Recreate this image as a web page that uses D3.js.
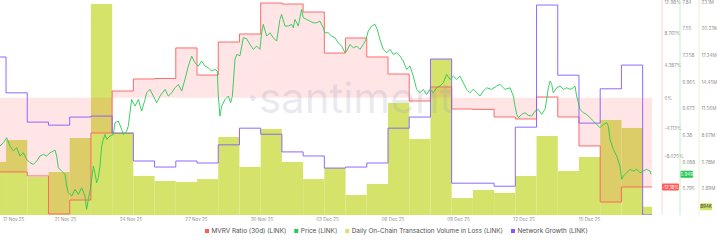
<!DOCTYPE html>
<html>
<head>
<meta charset="utf-8">
<script src="https://cdn.jsdelivr.net/npm/d3@7"></script>
<style>
  body { margin: 0; background: #fff; }
  svg { font-family: Inter, "Noto Sans", sans-serif; }
</style>
</head>
<body>
<svg id="chart" width="717" height="242"></svg>
<script>
// one value per day, 18 Nov 2025 .. 19 Dec 2025
const days = ["2025-11-18","2025-11-19","2025-11-20","2025-11-21","2025-11-22","2025-11-23","2025-11-24","2025-11-25",
  "2025-11-26","2025-11-27","2025-11-28","2025-11-29","2025-11-30","2025-12-01","2025-12-02","2025-12-03",
  "2025-12-04","2025-12-05","2025-12-06","2025-12-07","2025-12-08","2025-12-09","2025-12-10","2025-12-11",
  "2025-12-12","2025-12-13","2025-12-14","2025-12-15","2025-12-16","2025-12-17","2025-12-18","2025-12-19"];
// MVRV ratio (30d), %
const mvrv = [-10.14, -10.14, -10.68, -15.86, -13.96, -4.82, 0.90, 2.54, 2.61, 6.77, 3.08, 7.58, 8.67, 12.90, 12.76, 11.67,
  6.08, 8.13, 5.54, 3.22, -0.46, 1.45, -1.55, -1.60, -2.64, -2.91, 0.09, -2.64, -6.59, -14.23, -12.18, -12.18];
// daily on-chain transaction volume in loss, millions LINK
const volume = [5.75, 8.13, 4.12, 4.66, 8.35, 22.88, 9.00, 4.23, 3.69, 3.58, 3.90, 8.46, 5.21, 9.33, 5.75, 3.90,
  5.10, 2.17, 3.36, 12.15, 8.24, 16.92, 1.84, 2.71, 2.39, 4.23, 8.57, 4.77, 6.29, 10.30, 9.44, 0.894];
// network growth, new addresses
const growth = [313, 242, 184, 178, 194, 196, 162, 107, 95, 107, 103, 139, 172, 160, 125, 117,
  93, 95, 103, 172, 194, 309, 63, 63, 57, 174, 416, 277, 182, 250, 297, 0];

// price (LINK), [hours after 18 Nov 05:10 UTC, USD]
const priceStart = "2025-11-18T05:10:00Z";
const price = [[0,6.259],[3.8,6.296],[7.5,6.351],[11.3,6.259],[15.1,6.205],[18.9,6.241],[22.6,6.150],[26.4,6.186],
  [30.2,6.113],[33.9,6.077],[37.7,6.058],[41.5,6.095],[45.2,6.150],[49,6.168],[52.8,6.150],[56.6,6.186],[60.3,6.205],
  [62.2,6.216],[64.1,6.150],[66,6.022],[69.7,5.985],[73.5,5.949],[75.4,5.821],[77.3,5.748],[81.1,5.711],[84.8,5.784],
  [88.6,5.729],[92.4,5.802],[96.1,5.711],[98,5.565],[99.9,5.674],[101.8,5.766],[103.7,5.894],[105.6,6.040],[107.4,5.967],
  [109.3,5.857],[111.2,5.912],[113.1,6.040],[115,6.259],[116.9,6.333],[118.8,6.387],[120.6,6.333],[124.4,6.369],
  [128.2,6.387],[130.1,6.515],[133.8,6.534],[137.6,6.442],[139.5,6.387],[143.3,6.424],[145.1,6.479],[147,6.625],
  [148.9,6.771],[152.7,6.698],[156.5,6.771],[160.2,6.643],[164,6.771],[165.9,6.844],[169.7,6.881],[173.4,6.808],
  [177.2,6.735],[181,6.808],[186.6,6.881],[190.4,6.808],[194.2,6.844],[197.9,6.899],[201.7,6.936],[205.5,6.863],
  [209.2,6.991],[213,7.137],[216.8,7.246],[220.5,7.173],[224.3,7.137],[228.1,7.192],[231.9,7.137],[235.6,7.119],
  [239.4,7.082],[243.2,7.100],[245.8,7.082],[246.9,6.808],[248.8,6.588],[250.7,6.698],[254.5,6.771],[258.2,6.808],
  [260.9,6.735],[262.8,6.808],[263.9,6.954],[265.8,7.210],[267.7,7.265],[271.4,7.25],[275.2,7.448],[279,7.437],
  [282.7,7.374],[286.5,7.320],[290.3,7.356],[294,7.320],[295.9,7.502],[297.8,7.594],[301.6,7.466],[305.3,7.502],
  [309.1,7.448],[312.9,7.411],[316.6,7.649],[318.5,7.703],[322.3,7.576],[326.1,7.576],[329.8,7.594],[331.7,7.557],
  [333.6,7.649],[337.4,7.576],[341.1,7.758],[343,7.667],[346.8,7.649],[350.6,7.630],[354.3,7.612],[358.1,7.612],
  [361.9,7.630],[365.7,7.557],[367.5,7.502],[371.3,7.502],[375.1,7.466],[378.8,7.448],[382.6,7.393],[386.4,7.356],
  [390.2,7.283],[392,7.301],[395.8,7.374],[399.6,7.338],[403.4,7.356],[407.1,7.320],[410.9,7.374],[413.9,7.429],
  [416.5,7.521],[420.3,7.576],[424.1,7.594],[426.7,7.539],[429.7,7.429],[433.5,7.320],[437.3,7.283],[441.1,7.320],
  [444.8,7.265],[448.6,7.283],[452.4,7.246],[456.1,7.192],[459.9,7.100],[463.7,7.137],[467.4,7.027],[471.2,6.881],
  [475,6.844],[478.8,6.881],[482.5,6.826],[486.3,6.881],[490.1,6.844],[493.8,6.899],[497.6,6.918],[501.4,6.954],
  [505.1,7.045],[508.9,6.991],[512.7,7.027],[516.5,6.991],[520.2,7.027],[524,6.954],[527.8,6.881],[531.5,6.844],
  [535.3,6.881],[539.1,6.844],[542.9,6.808],[546.7,6.863],[550.4,6.899],[556.1,6.881],[561.8,6.918],[565.5,6.936],
  [571.2,6.881],[576.8,6.899],[580.6,6.808],[582.5,6.698],[584.4,6.607],[586.3,6.570],[590,6.607],[593.8,6.625],
  [597.6,6.596],[601.3,6.588],[605.1,6.643],[608.9,6.662],[612.6,6.607],[616.4,6.662],[618.3,6.771],[620.2,6.899],
  [622.1,6.972],[624,6.936],[625.8,6.844],[629.6,6.899],[633.4,6.918],[637.2,6.881],[640.9,6.899],[644.7,6.881],
  [648.5,6.899],[650.3,6.918],[652.2,6.808],[654.1,6.735],[656,6.662],[659.8,6.625],[663.5,6.607],[667.3,6.570],
  [671.1,6.534],[674.8,6.497],[678.6,6.460],[682.4,6.497],[686.2,6.515],[688,6.479],[689.9,6.333],[693.7,6.223],
  [697.5,6.150],[701.2,6.040],[703.1,5.894],[705,5.930],[708.8,5.967],[712.5,6.004],[716.3,5.985],[720.1,6.004],
  [723.9,5.967],[727.6,5.985],[731.4,6.004],[735.2,5.985],[736.3,5.949]];

const xLabels = ["17 Nov 25","21 Nov 25","24 Nov 25","27 Nov 25","30 Nov 25","03 Dec 25","06 Dec 25","09 Dec 25","12 Dec 25","15 Dec 25"];
const mvrvTicks = [-8.025, -4.113, 0, 4.387, 8.761, 12.98];
const priceTicks = [5.795, 6.088, 6.38, 6.673, 6.965, 7.258, 7.55, 7.84];
const volumeTicks = [2.89, 5.78, 8.67, 11.56, 14.45, 17.34, 20.23, 23.1];

const colors = { mvrv: "#ff5b5b", price: "#26c953", volume: "#d6e36a", growth: "#8358ff" };

const svg = d3.select("#chart");
const W = 652, plotTop = 3, plotBottom = 215;
const halfDay = 12 * 3600 * 1000;
const rows = days.map((d, i) => ({ t: new Date(d + "T00:00:00Z"), mvrv: mvrv[i], vol: volume[i], growth: growth[i] }));

const x = d3.scaleUtc().domain([new Date("2025-11-18T05:10:00Z"), new Date("2025-12-18T22:35:00Z")]).range([0, W]);
const yMvrv = d3.scaleLinear().domain([-16.0, 12.9]).range([plotBottom, plotTop]);
const yPrice = d3.scaleLinear().domain([5.503, 7.84]).range([plotBottom, 2]);
const yVol = d3.scaleLinear().domain([0, 23.1]).range([plotBottom, 2]);
const yGrowth = d3.scaleLinear().domain([0, 420]).range([plotBottom, plotTop]);

svg.append("clipPath").attr("id", "plot").append("rect").attr("x", 0).attr("y", 0).attr("width", W).attr("height", plotBottom);
const g = svg.append("g").attr("clip-path", "url(#plot)");

// volume bars
g.append("g").selectAll("rect").data(rows).enter().append("rect")
  .attr("x", d => x(new Date(+d.t - halfDay)))
  .attr("width", d => x(new Date(+d.t + halfDay)) - x(new Date(+d.t - halfDay)))
  .attr("y", d => yVol(d.vol))
  .attr("height", d => plotBottom - yVol(d.vol))
  .attr("fill", colors.volume);

// step points for daily series
function steps(key) {
  const pts = [];
  rows.forEach(d => {
    pts.push({ t: new Date(+d.t - halfDay), v: d[key] });
    pts.push({ t: new Date(+d.t + halfDay), v: d[key] });
  });
  return pts;
}

const mvrvPts = steps("mvrv");
g.append("path").datum(mvrvPts)
  .attr("d", d3.area().x(d => x(d.t)).y0(yMvrv(0)).y1(d => yMvrv(d.v)))
  .attr("fill", colors.mvrv).attr("fill-opacity", 0.16);
g.append("path").datum(mvrvPts)
  .attr("d", d3.line().x(d => x(d.t)).y(d => yMvrv(d.v)))
  .attr("fill", "none").attr("stroke", colors.mvrv).attr("stroke-width", 0.9);

g.append("path").datum(steps("growth"))
  .attr("d", d3.line().x(d => x(d.t)).y(d => yGrowth(d.v)))
  .attr("fill", "none").attr("stroke", colors.growth).attr("stroke-width", 0.9);

const t0 = +new Date(priceStart);
g.append("path").datum(price)
  .attr("d", d3.line().x(d => x(new Date(t0 + d[0] * 3600 * 1000))).y(d => yPrice(d[1])))
  .attr("fill", "none").attr("stroke", colors.price).attr("stroke-width", 0.9);

// watermark
svg.append("text").attr("x", 350).attr("y", 113).attr("text-anchor", "middle")
  .attr("font-size", 42).attr("fill", "#9aa0bb").attr("fill-opacity", 0.22).text("·santiment");

// x labels, evenly spread like the source
const xl = d3.scaleLinear().domain([0, xLabels.length]).range([0, 655]);
svg.append("g").selectAll("text").data(xLabels).enter().append("text")
  .attr("x", (d, i) => i === 0 ? 3 : xl(i))
  .attr("y", 221)
  .attr("text-anchor", (d, i) => i === 0 ? "start" : "middle")
  .attr("font-size", 4.6).attr("fill", "#8f8f8f").text(d => d);

// right axes
function rightAxis(xPos, scale, ticks, fmt, color) {
  svg.append("line").attr("x1", xPos).attr("x2", xPos).attr("y1", 0).attr("y2", plotBottom)
    .attr("stroke", color).attr("stroke-width", 0.8);
  const a = svg.append("g").attr("transform", `translate(${xPos},0)`)
    .call(d3.axisRight(scale).tickValues(ticks).tickSize(0).tickPadding(2.5).tickFormat(fmt));
  a.select(".domain").remove();
  a.selectAll("text").attr("font-size", 4.6).attr("fill", "#8f8f8f").attr("font-family", "Inter, sans-serif");
}
rightAxis(662, yMvrv, mvrvTicks, d => d + "%", "#f6cccc");
rightAxis(680, yPrice, priceTicks, d => d, "#b4e8bf");
rightAxis(699, yVol, volumeTicks, d => d + "M", "#eaefb6");

// last value tags
function tag(xPos, yPos, w, fill, txtColor, txt) {
  svg.append("rect").attr("x", xPos).attr("y", yPos - 3.5).attr("width", w).attr("height", 7).attr("rx", 1).attr("fill", fill);
  svg.append("text").attr("x", xPos + w / 2).attr("y", yPos + 1.7).attr("text-anchor", "middle")
    .attr("font-size", 4.6).attr("fill", txtColor).text(txt);
}
const lastM = mvrv[mvrv.length - 1], lastP = price[price.length - 1][1], lastV = volume[volume.length - 1];
tag(662, yMvrv(lastM), 17, colors.mvrv, "#fff", lastM + "%");
tag(680.5, yPrice(lastP), 12.5, colors.price, "#fff", lastP);
tag(700, Math.min(yVol(lastV), 212), 12, colors.volume, "#333", Math.round(lastV * 1000) + "K");

// legend
const legendItems = [
  { name: "MVRV Ratio (30d) (LINK)", c: colors.mvrv },
  { name: "Price (LINK)", c: colors.price },
  { name: "Daily On-Chain Transaction Volume in Loss (LINK)", c: colors.volume },
  { name: "Network Growth (LINK)", c: colors.growth }
];
const lg = svg.append("g").attr("font-size", 6.4).attr("fill", "#505050");
let lx = 205;
legendItems.forEach(it => {
  lg.append("rect").attr("x", lx).attr("y", 229).attr("width", 4).attr("height", 4).attr("fill", it.c);
  const t = lg.append("text").attr("x", lx + 6.5).attr("y", 233.2).text(it.name);
  lx += 6.5 + t.node().getComputedTextLength() + 8;
});
</script>
</body>
</html>
